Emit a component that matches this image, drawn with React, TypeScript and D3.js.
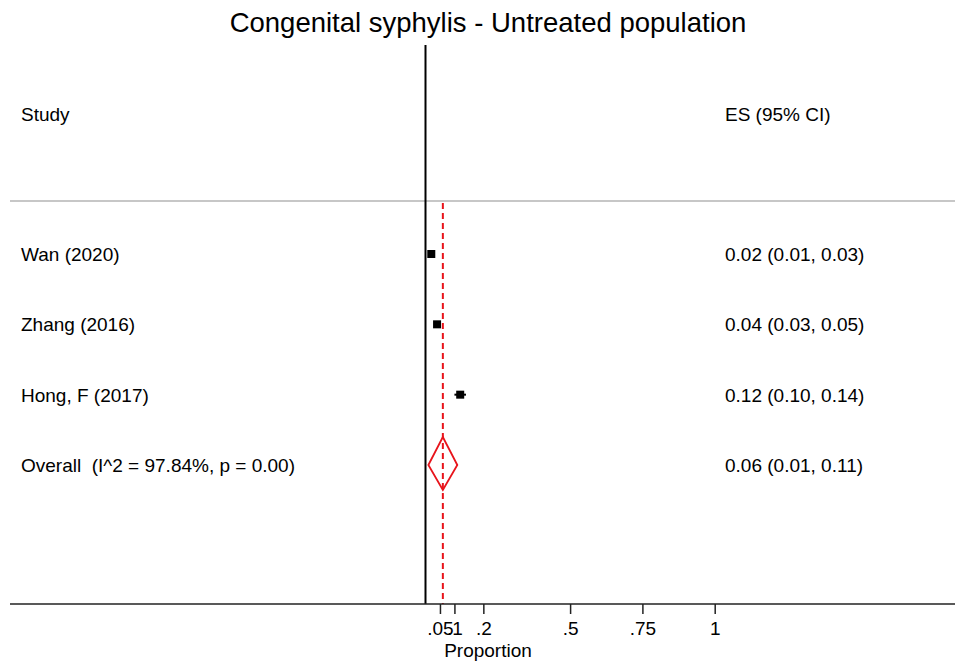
import {useEffect, useRef} from "react";
import * as d3 from "d3";

const studies = ["Wan (2020)", "Zhang (2016)", "Hong, F (2017)"];
const es = [0.02, 0.04, 0.12];
const lower = [0.01, 0.03, 0.10];
const upper = [0.03, 0.05, 0.14];
const esLabels = ["0.02 (0.01, 0.03)", "0.04 (0.03, 0.05)", "0.12 (0.10, 0.14)"];

const overallLabel = "Overall  (I^2 = 97.84%, p = 0.00)";
const overallEs = 0.06;
const overallLower = 0.01;
const overallUpper = 0.11;
const overallText = "0.06 (0.01, 0.11)";

const tickValues = [0.05, 0.1, 0.2, 0.5, 0.75, 1];
const tickLabels = [".05", ".1", ".2", ".5", ".75", "1"];

const W = 955, H = 664;
const font = "Liberation Sans, Arial, Helvetica, sans-serif";
const fs = 19;

const App = () => {
    const ref = useRef<SVGSVGElement>(null);

    useEffect(() => {
        const svg = d3.select(ref.current);
        svg.selectAll("*").remove();

        const x = d3.scaleLinear().domain([0, 1]).range([425.5, 714.7]);
        // row 0..2 = studies, row 3 = overall
        const y = d3.scaleLinear().domain([0, 3]).range([254, 465]);
        const axisY = 604;
        const leftX = 21, rightX = 725;

        svg.append("text")
            .attr("x", 488).attr("y", 32)
            .attr("text-anchor", "middle")
            .attr("font-family", font).attr("font-size", 27.5)
            .text("Congenital syphylis - Untreated population");

        // headers
        svg.append("text").attr("x", leftX).attr("y", 121)
            .attr("font-family", font).attr("font-size", fs).text("Study");
        svg.append("text").attr("x", rightX).attr("y", 121)
            .attr("font-family", font).attr("font-size", fs).text("ES (95% CI)");

        svg.append("line")
            .attr("x1", 10).attr("x2", W).attr("y1", 201).attr("y2", 201)
            .attr("stroke", "#b4b4b4").attr("stroke-width", 1.5);

        // null line
        svg.append("line")
            .attr("x1", x(0)).attr("x2", x(0)).attr("y1", 45).attr("y2", axisY)
            .attr("stroke", "#000").attr("stroke-width", 2);

        // overall dashed line
        svg.append("line")
            .attr("x1", x(overallEs)).attr("x2", x(overallEs)).attr("y1", 203).attr("y2", axisY)
            .attr("stroke", "#e8141b").attr("stroke-width", 2)
            .attr("stroke-dasharray", "6,4");

        const rows = svg.append("g");
        studies.forEach((s, i) => {
            rows.append("text").attr("x", leftX).attr("y", y(i) + 7)
                .attr("font-family", font).attr("font-size", fs).text(s);
            rows.append("text").attr("x", rightX).attr("y", y(i) + 7)
                .attr("font-family", font).attr("font-size", fs).text(esLabels[i]);
            rows.append("line")
                .attr("x1", x(lower[i])).attr("x2", x(upper[i]))
                .attr("y1", y(i)).attr("y2", y(i))
                .attr("stroke", "#000").attr("stroke-width", 2);
            rows.append("rect")
                .attr("x", x(es[i]) - 4).attr("y", y(i) - 4)
                .attr("width", 8).attr("height", 8)
                .attr("fill", "#000");
        });

        const oy = y(3);
        svg.append("text").attr("x", leftX).attr("y", oy + 7)
            .attr("font-family", font).attr("font-size", fs)
            .style("white-space", "pre").text(overallLabel);
        svg.append("text").attr("x", rightX).attr("y", oy + 7)
            .attr("font-family", font).attr("font-size", fs).text(overallText);
        const dia = [
            [x(overallLower), oy],
            [x(overallEs), oy - 28],
            [x(overallUpper), oy],
            [x(overallEs), oy + 25],
        ];
        svg.append("path")
            .attr("d", d3.line()(dia as [number, number][]) + "Z")
            .attr("fill", "none").attr("stroke", "#e8141b").attr("stroke-width", 1.8);

        // x axis
        const axis = d3.axisBottom(x)
            .tickValues(tickValues)
            .tickSize(10)
            .tickFormat((d, i) => tickLabels[i]);
        const g = svg.append("g")
            .attr("transform", `translate(0, ${axisY})`)
            .call(axis);
        g.select(".domain").remove();
        g.selectAll(".tick line").attr("stroke", "#222").attr("stroke-width", 1.5);
        g.selectAll(".tick text")
            .attr("font-family", font).attr("font-size", fs)
            .attr("fill", "#000").attr("dy", 0).attr("y", 31);
        svg.append("line")
            .attr("x1", 10).attr("x2", W).attr("y1", axisY).attr("y2", axisY)
            .attr("stroke", "#222").attr("stroke-width", 1.5);

        svg.append("text").attr("x", 488).attr("y", 657)
            .attr("text-anchor", "middle")
            .attr("font-family", font).attr("font-size", fs).text("Proportion");
    }, []);

    return (
        <svg ref={ref} width={W} height={H}
             style={{position: "absolute", left: 0, top: 0, background: "#fff"}} />
    );
};

export default App;
